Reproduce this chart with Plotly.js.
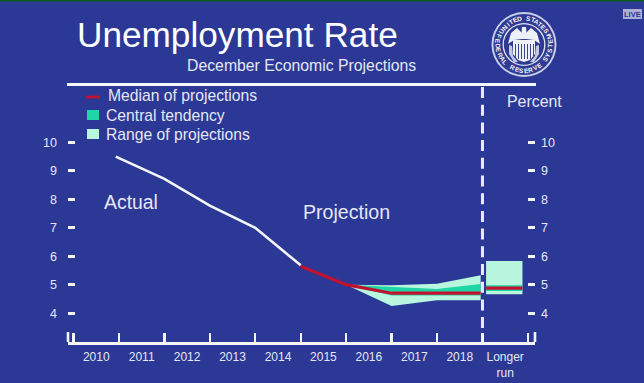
<!DOCTYPE html>
<html><head><meta charset="utf-8">
<script src="https://cdn.plot.ly/plotly-3.0.1.min.js"></script>
<style>html,body{margin:0;padding:0;background:#2c3896;overflow:hidden}</style>
</head><body><div id="chart" style="width:644px;height:383px"></div>
<script>
// Data
const actualX = [2010.93, 2012, 2013, 2014, 2015];
const actualY = [9.5, 8.72, 7.78, 7.0, 5.68];
const medianX = [2015, 2016, 2017, 2018, 2018.96];
const medianY = [5.65, 5.0, 4.7, 4.7, 4.7];
const bandX = [2016, 2017, 2018, 2018.96];
const rangeHigh = [5.0, 4.98, 5.03, 5.33];
const rangeLow = [5.0, 4.25, 4.45, 4.45];
const centralHigh = [5.0, 4.92, 4.85, 5.02];
const centralLow = [5.0, 4.62, 4.62, 4.62];
const longX = [2019.08, 2019.88];
const longRange = [4.66, 5.83];
const longCentral = [4.78, 4.98];
const longMedian = [4.88, 4.88];
const yearLabels = ['2010','2011','2012','2013','2014','2015','2016','2017','2018','Longer<br>run'];
const yearMid = [2010.5,2011.5,2012.5,2013.5,2014.5,2015.5,2016.5,2017.5,2018.5,2019.5];
const yearEdges = [2010,2011,2012,2013,2014,2015,2016,2017,2018,2019,2020];
const yTicks = [4,5,6,7,8,9,10];

const W=644,H=383,L=68,R=535,T=86,B=342;
const BG='#2c3896', TXT='#e4e7f4', RED='#c2122f', CENT='#1ed6a6', RANGE='#b9f6e0', WH='#f4f6fb';
const FONT='"Liberation Sans", Arial, sans-serif';
const px=x=>(x-L)/(R-L), py=y=>(B-y)/(B-T);
const band=(x)=>x.concat(x.slice().reverse());
const poly=(hi,lo)=>hi.concat(lo.slice().reverse());
const fillTrace=(x,y,c,name)=>({type:'scatter',mode:'lines',x,y,fill:'toself',fillcolor:c,line:{width:0,color:c},name,hoverinfo:'skip',showlegend:false});
const lineTrace=(x,y,c,w,name)=>({type:'scatter',mode:'lines',x,y,line:{color:c,width:w},name,showlegend:false});

const traces=[
 fillTrace(band(bandX),poly(rangeHigh,rangeLow),RANGE,'Range of projections'),
 fillTrace(band(bandX),poly(centralHigh,centralLow),CENT,'Central tendency'),
 fillTrace(band(longX),[longRange[1],longRange[1],longRange[0],longRange[0]],RANGE,'Range, longer run'),
 fillTrace(band(longX),[longCentral[1],longCentral[1],longCentral[0],longCentral[0]],CENT,'Central, longer run'),
 lineTrace(actualX,actualY,WH,2.6,'Actual'),
 lineTrace(medianX,medianY,RED,3.2,'Median of projections'),
 lineTrace(longX,longMedian,RED,3.2,'Median, longer run'),
 {type:'scatter',mode:'lines',x:[2015],y:[5],yaxis:'y2',line:{width:0},hoverinfo:'skip',showlegend:false}
];

const notes=[];
const note=(text,x,y,size,color,anchor,extra)=>notes.push(Object.assign({text,xref:'paper',yref:'paper',x:px(x),y:py(y),showarrow:false,xanchor:anchor||'left',yanchor:'middle',font:{family:FONT,size,color:color||TXT},borderpad:0,borderwidth:0},extra||{}));
note('Unemployment Rate',76.5,34,35.2,'#ffffff');
note('December Economic Projections',186.5,65.5,15.8);
note('Median of projections',107.5,95,15.7);
note('Central tendency',106,115,15.7);
note('Range of projections',106,134,15.7);
note('Percent',507,101.5,15.9);
note('Actual',103.5,202,19.4);
note('Projection',303,212,19.6);
note('LIVE',632.5,14.3,7.5,'#2c3896','center',{font:{family:FONT,size:7.5,color:'#2c3896',weight:700}});

const rect=(x0,y0,x1,y1,c)=>({type:'rect',xref:'paper',yref:'paper',x0:px(x0),x1:px(x1),y0:py(y0),y1:py(y1),fillcolor:c,line:{width:0}});
const hline=(x0,y0,x1,y1,c,w)=>({type:'line',xref:'paper',yref:'paper',x0:px(x0),x1:px(x1),y0:py(y0),y1:py(y1),line:{color:c,width:w}});
const circ=(cx,cy,r,c,lc,lw)=>({type:'circle',xref:'paper',yref:'paper',x0:px(cx-r),x1:px(cx+r),y0:py(cy-r),y1:py(cy+r),fillcolor:c,line:{color:lc||c,width:lw||0}});
const path=(pts,c)=>({type:'path',xref:'paper',yref:'paper',path:'M'+pts.map(p=>px(p[0]).toFixed(5)+','+py(p[1]).toFixed(5)).join('L')+'Z',fillcolor:c,line:{width:0}});

const shapes=[
 rect(0,0,644,1.6,'#0c5a22'),
 rect(623,9,642,19,'#a9b0d8'),
 hline(67,84.5,536,84.5,WH,3),
 // axis end posts
 hline(68,332,68,342,WH,2.6),
 hline(535,332,535,342,WH,2.6),
 // dashed divider
 {type:'line',xref:'x',yref:'paper',x0:2019,x1:2019,y0:py(87),y1:py(329),line:{color:'#e8ebf6',width:3,dash:'11px,6.7px'}},
 // legend keys
 hline(86,97,100,97,RED,2.8),
 rect(87,110,99,120,CENT),
 rect(87,129,99,139,RANGE),
];
// Seal
const SX=524,SY=44.5;
shapes.push(circ(SX,SY,32.5,'#c9cfe8'),circ(SX,SY,30.6,'#2f3a92'),circ(SX,SY,21.5,'#dfe3f2'),circ(SX,SY,20.2,'#2f3a92'));
// wings and eagle
shapes.push(path([[508,44],[511,33],[517,28],[522,33],[522,39],[514,40]],'#eef0f8'));
shapes.push(path([[540,44],[537,33],[531,28],[526,33],[526,39],[534,40]],'#eef0f8'));
shapes.push(path([[522,27],[526,27],[527,39],[521,39]],'#eef0f8'));
// shield with stripes
shapes.push(path([[513,40],[535,40],[535,54],[530,60],[524,62],[518,60],[513,54]],'#eef0f8'));
for(let sx=515.5;sx<534;sx+=3) shapes.push(hline(sx,44,sx,59,'#3a4596',1));
// laurel sprays
shapes.push(path([[509,45],[512,46],[513,56],[518,62],[514,62],[509,54]],'#c3c9e4'));
shapes.push(path([[539,45],[536,46],[535,56],[530,62],[534,62],[539,54]],'#c3c9e4'));
// ring lettering
const ringTop='UNITED STATES', ringBottom='FEDERAL RESERVE SYSTEM';
const ringText=(s,a0,a1,bottom)=>{[...s].forEach((ch,i)=>{const deg=a0+(a1-a0)*i/(s.length-1),a=deg*Math.PI/180;
  const r=26,x=SX+r*Math.sin(a),y=SY-r*Math.cos(a);
  if(ch!==' ')notes.push({text:ch,xref:'paper',yref:'paper',x:px(x),y:py(y),showarrow:false,xanchor:'center',yanchor:'middle',textangle:bottom?deg-180:deg,font:{family:FONT,size:6.5,color:'#f1f3fa',weight:700},borderpad:0});});};
ringText(ringTop,-58,58,false);
ringText(ringBottom,288,72,true);

const yCommon={range:[2.986,11.98],tickvals:yTicks,ticktext:yTicks.map(String),ticks:'inside',ticklen:7,tickwidth:3,tickcolor:WH,showgrid:false,zeroline:false,showline:false,
 tickfont:{family:FONT,size:12.5,color:TXT}};
const layout={
 width:W,height:H,margin:{l:L,r:W-R,t:T,b:H-B,pad:0},paper_bgcolor:BG,plot_bgcolor:BG,showlegend:false,
 xaxis:{range:[2009.879,2020.156],showgrid:false,zeroline:false,showline:true,linecolor:WH,linewidth:3,
  tickmode:'array',tickvals:yearMid,ticktext:yearLabels,ticks:'',ticklabelstandoff:2,tickangle:0,tickfont:{family:FONT,size:12,color:TXT},
  minor:{tickmode:'array',tickvals:yearEdges,ticks:'inside',ticklen:9,tickwidth:2.4,tickcolor:WH,showgrid:false}},
 yaxis:Object.assign({},yCommon,{side:'left',ticklabelstandoff:10}),
 yaxis2:Object.assign({},yCommon,{side:'right',overlaying:'y',anchor:'x',ticklabelstandoff:5}),
 shapes,annotations:notes
};
Plotly.newPlot('chart',traces,layout,{displayModeBar:false,staticPlot:true});
</script></body></html>
